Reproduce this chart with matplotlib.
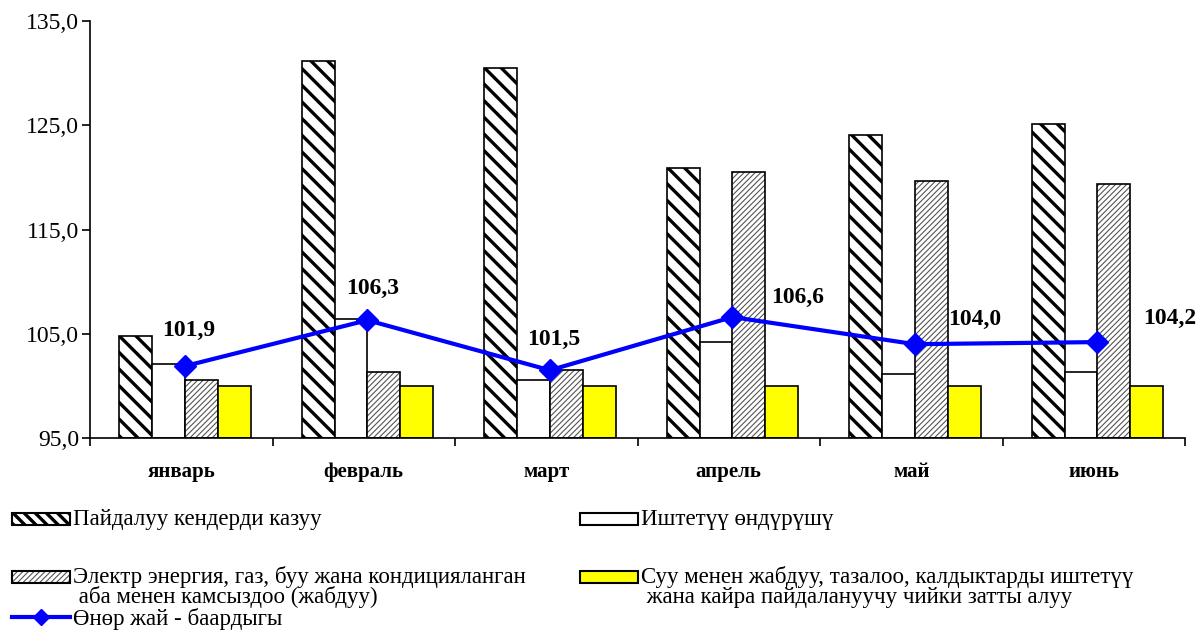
import numpy as np
import matplotlib.pyplot as plt
from matplotlib.patches import Rectangle
from matplotlib.lines import Line2D

plt.rcParams['font.family'] = ['Liberation Serif', 'DejaVu Serif']

# данные
months = ['январь', 'февраль', 'март', 'апрель', 'май', 'июнь']
mining = [104.8, 131.2, 130.5, 120.9, 124.1, 125.1]
manufacturing = [102.1, 106.4, 100.6, 104.2, 101.1, 101.3]
electricity = [100.6, 101.3, 101.5, 120.5, 119.7, 119.4]
water = [100.0, 100.0, 100.0, 100.0, 100.0, 100.0]
industry_total = [101.9, 106.3, 101.5, 106.6, 104.0, 104.2]

legend_labels = ['Пайдалуу кендерди казуу',
                 'Иштетүү өндүрүшү',
                 'Электр энергия, газ, буу жана кондицияланган\n аба менен камсыздоо (жабдуу)',
                 'Суу менен жабдуу, тазалоо, калдыктарды иштетүү\n жана кайра пайдалануучу чийки затты алуу',
                 'Өнөр жай - баардыгы']

# смещения подписей линии (в пунктах)
label_offsets = [(3, 26), (4, 23), (3, 22), (47, 14), (43, 18), (52, 17)]

def comma(v):
    return f'{v:.1f}'.replace('.', ',')

def set_hlw(patches, lw):
    for p in patches:
        if hasattr(p, 'set_hatch_linewidth'):
            p.set_hatch_linewidth(lw)

fig = plt.figure(figsize=(11.99, 6.34), dpi=100)
ax = fig.add_axes([90 / 1199, 1 - 438 / 634, 1095 / 1199, 417 / 634])

x = np.arange(len(months))
xc = x + 0.02
w = 0.18
base = 95.0

b1 = ax.bar(xc - 1.5 * w, np.array(mining) - base, w, bottom=base, facecolor='white',
            edgecolor='black', hatch='\\\\', linewidth=1.2)
set_hlw(b1, 2.4)
ax.bar(xc - 0.5 * w, np.array(manufacturing) - base, w, bottom=base, facecolor='white',
       edgecolor='black', linewidth=1.2)
b3 = ax.bar(xc + 0.5 * w, np.array(electricity) - base, w, bottom=base, facecolor='white',
            edgecolor='#555555', hatch='//////', linewidth=0)
set_hlw(b3, 0.8)
ax.bar(xc + 0.5 * w, np.array(electricity) - base, w, bottom=base, fill=False,
       edgecolor='black', linewidth=1.2)
ax.bar(xc + 1.5 * w, np.array(water) - base, w, bottom=base, facecolor='#FFFF00',
       edgecolor='black', linewidth=1.2)

ax.plot(xc, industry_total, color='#0000FF', linewidth=3, marker='D', markersize=11)
for xi, v, off in zip(xc, industry_total, label_offsets):
    ax.annotate(comma(v), (xi, v), xytext=off, textcoords='offset points',
                ha='center', va='center', fontsize=17, fontweight='bold')

ax.set_xlim(-0.5, len(months) - 0.5)
ax.set_ylim(95, 135)
ax.set_yticks([95, 105, 115, 125, 135])
ax.set_yticklabels([comma(t) for t in [95, 105, 115, 125, 135]], fontsize=17)
ax.set_xticks(x)
ax.set_xticklabels(months, fontsize=15, fontweight='bold')
ax.set_xticks(np.arange(-0.5, len(months)), minor=True)
ax.tick_params(axis='x', which='major', length=0, pad=17)
ax.tick_params(axis='x', which='minor', length=6, width=1.2)
ax.tick_params(axis='y', length=6, width=1.2, pad=2)
for s in ['top', 'right']:
    ax.spines[s].set_visible(False)
for s in ['left', 'bottom']:
    ax.spines[s].set_linewidth(1.2)

# легенда в пикселях
lax = fig.add_axes([0, 0, 1, 1])
lax.set_xlim(0, 1199)
lax.set_ylim(634, 0)
lax.axis('off')

def legend_patch(px, py, **kw):
    r = Rectangle((px, py - 6), 58, 12, **kw)
    lax.add_patch(r)
    return r

r1 = legend_patch(12, 519, facecolor='white', edgecolor='black', hatch='\\\\\\', linewidth=1.5)
set_hlw([r1], 2.4)
legend_patch(580, 519, facecolor='white', edgecolor='black', linewidth=1.5)
r3 = legend_patch(12, 577, facecolor='white', edgecolor='#555555', hatch='//////', linewidth=0)
set_hlw([r3], 0.8)
legend_patch(12, 577, fill=False, edgecolor='black', linewidth=1.5)
legend_patch(580, 577, facecolor='#FFFF00', edgecolor='black', linewidth=1.5)
lax.add_line(Line2D([12, 70], [617, 617], color='#0000FF', linewidth=3))
lax.plot([41], [617], marker='D', color='#0000FF', markersize=8)

txt = dict(fontsize=16.5, va='center', ha='left', linespacing=0.88)
lax.text(73, 519, legend_labels[0], **txt)
lax.text(641, 519, legend_labels[1], **txt)
lax.text(73, 587, legend_labels[2], **txt)
lax.text(641, 587, legend_labels[3], **txt)
lax.text(73, 619, legend_labels[4], **txt)

fig.savefig('out.png', dpi=100)
